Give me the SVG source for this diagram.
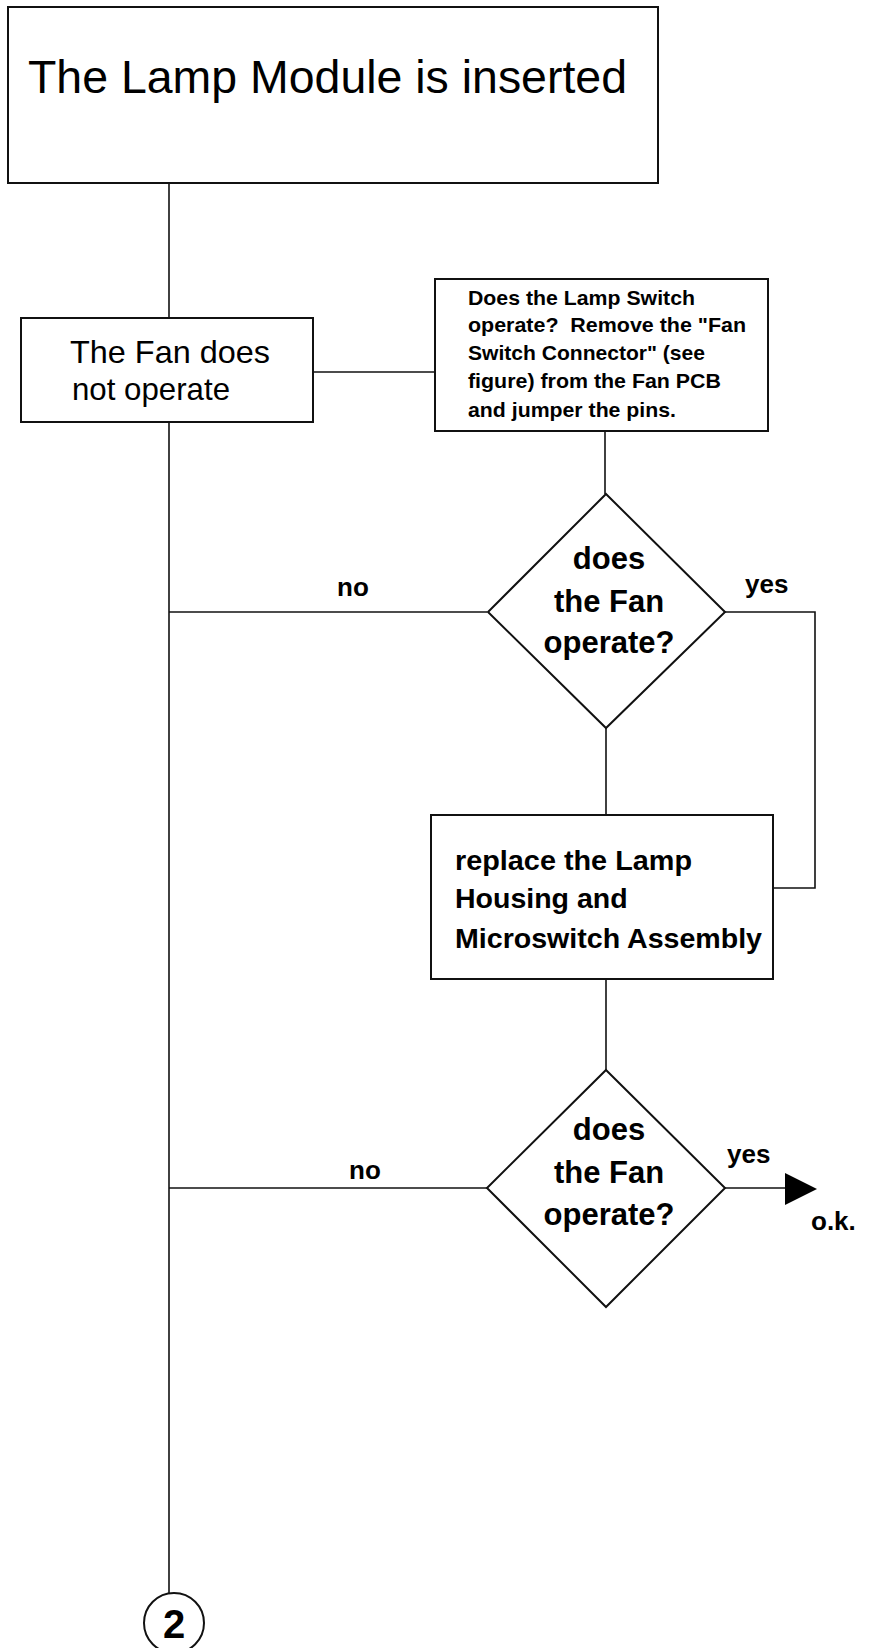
<svg xmlns="http://www.w3.org/2000/svg" width="870" height="1648" viewBox="0 0 870 1648">
<style>
.box{fill:#fff;stroke:#111;stroke-width:2}
.ln{fill:none;stroke:#111;stroke-width:1.6}
.t{font-family:"Liberation Sans",Arial,sans-serif;fill:#000}
.b{font-weight:bold}
</style>
<rect width="870" height="1648" fill="#fff"/>
<g id="connectors">
<polyline class="ln" points="169,183 169,318"/>
<polyline class="ln" points="169,422 169,1593"/>
<polyline class="ln" points="314,372 435,372"/>
<polyline class="ln" points="605,431 605,494"/>
<polyline class="ln" points="169,612 487,612"/>
<polyline class="ln" points="725,612 815,612 815,888 773,888"/>
<polyline class="ln" points="606,728 606,815"/>
<polyline class="ln" points="606,979 606,1070"/>
<polyline class="ln" points="169,1188 487,1188"/>
<polyline class="ln" points="725,1188 786,1188"/>
<polygon points="785,1173 817,1189 785,1205" fill="#000"/>
<text class="t b" x="337" y="596" font-size="26">no</text>
<text class="t b" x="745" y="593" font-size="26">yes</text>
<text class="t b" x="349" y="1179" font-size="26">no</text>
<text class="t b" x="727" y="1163" font-size="26">yes</text>
<text class="t b" x="811" y="1230" font-size="26">o.k.</text>
</g>
<g id="start">
<rect class="box" x="8" y="7" width="650" height="176"/>
<text class="t" x="28" y="93" font-size="46" textLength="599" lengthAdjust="spacingAndGlyphs">The Lamp Module is inserted</text>
</g>
<g id="fan">
<rect class="box" x="21" y="318" width="292" height="104"/>
<text class="t" x="70" y="363" font-size="32" textLength="200" lengthAdjust="spacingAndGlyphs">The Fan does</text>
<text class="t" x="72" y="400" font-size="32" textLength="158" lengthAdjust="spacingAndGlyphs">not operate</text>
</g>
<g id="lampswitch">
<rect class="box" x="435" y="279" width="333" height="152"/>
<g class="t b" font-size="21">
<text x="468" y="305" textLength="227" lengthAdjust="spacingAndGlyphs">Does the Lamp Switch</text>
<text x="468" y="332" textLength="278" lengthAdjust="spacingAndGlyphs" xml:space="preserve">operate?  Remove the "Fan</text>
<text x="468" y="360" textLength="237" lengthAdjust="spacingAndGlyphs">Switch Connector" (see</text>
<text x="468" y="388" textLength="253" lengthAdjust="spacingAndGlyphs">figure) from the Fan PCB</text>
<text x="468" y="417" textLength="208" lengthAdjust="spacingAndGlyphs">and jumper the pins.</text>
</g>
</g>
<g id="decision1">
<polygon class="box" points="606,494 725,612 606,728 488,612"/>
<g class="t b" font-size="31" text-anchor="middle">
<text x="609" y="569">does</text>
<text x="609" y="612">the Fan</text>
<text x="609" y="653">operate?</text>
</g>
</g>
<g id="replace">
<rect class="box" x="431" y="815" width="342" height="164"/>
<g class="t b" font-size="28.5">
<text x="455" y="870" textLength="237" lengthAdjust="spacingAndGlyphs">replace the Lamp</text>
<text x="455" y="908">Housing and</text>
<text x="455" y="948" textLength="307" lengthAdjust="spacingAndGlyphs">Microswitch Assembly</text>
</g>
</g>
<g id="decision2">
<polygon class="box" points="606,1070 725,1188 606,1307 487,1188"/>
<g class="t b" font-size="31" text-anchor="middle">
<text x="609" y="1140">does</text>
<text x="609" y="1183">the Fan</text>
<text x="609" y="1225">operate?</text>
</g>
</g>
<g id="connector2">
<circle class="box" cx="174" cy="1623" r="30"/>
<text class="t b" x="174" y="1638" font-size="40" text-anchor="middle">2</text>
</g>
</svg>
